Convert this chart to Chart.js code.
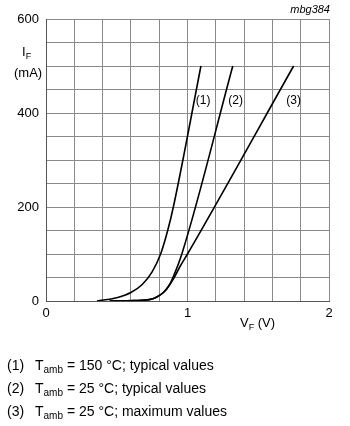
<!DOCTYPE html>
<html>
<head>
<meta charset="utf-8">
<script src="https://cdn.jsdelivr.net/npm/chart.js@4/dist/chart.umd.min.js"></script>
<style>
  body { margin: 0; background: #fff; font-family: 'Liberation Sans', Arial, sans-serif; color: #000; }
  #wrap { position: relative; width: 350px; height: 426px; }
  canvas { position: absolute; left: 0; top: 0; }
  .lbl { position: absolute; font-size: 13px; line-height: 1; white-space: nowrap; }
  .lbl sub { font-size: 9px; vertical-align: -3px; line-height: 0; }
  .note { font-size: 14px; }
  .note sub { font-size: 10px; }
</style>
</head>
<body>
<div id="wrap">
  <canvas id="chart" width="350" height="426"></canvas>
  <div class="lbl" style="right:20px; top:4px; font-size:11px; font-style:italic;">mbg384</div>
  <div class="lbl" style="left:22px; top:45px;">I<sub>F</sub></div>
  <div class="lbl" style="left:14px; top:66px;">(mA)</div>
  <div class="lbl" style="left:240px; top:316px;">V<sub>F</sub> (V)</div>
  <div class="lbl note" style="left:7px; top:358px;">(1)</div>
  <div class="lbl note" style="left:35px; top:358px;">T<sub>amb</sub> = 150 °C; typical values</div>
  <div class="lbl note" style="left:7px; top:381px;">(2)</div>
  <div class="lbl note" style="left:35px; top:381px;">T<sub>amb</sub> = 25 °C; typical values</div>
  <div class="lbl note" style="left:7px; top:404px;">(3)</div>
  <div class="lbl note" style="left:35px; top:404px;">T<sub>amb</sub> = 25 °C; maximum values</div>
</div>
<script>
// ===== DATA =====
// forward voltage (V) vs forward current (mA)
const curve1V = [0.36, 0.5, 0.6, 0.68, 0.75, 0.81, 0.86, 0.9, 1.095];
const curve1I = [0, 7, 18, 35, 62, 100, 150, 200, 500];

const curve2V = [0.45, 0.62, 0.73, 0.78, 0.83, 0.87, 0.9, 0.96, 1.32];
const curve2I = [0, 1, 3, 8, 18, 33, 52, 100, 500];

const curve3V = [0.45, 0.62, 0.73, 0.78, 0.83, 0.87, 0.91, 0.95, 1.0, 1.75];
const curve3I = [0, 1, 3, 8, 18, 33, 52, 75, 100, 500];

const curveNames = ['(1)', '(2)', '(3)'];
const curveLabelV = [1.11, 1.34, 1.75];
const curveLabelI = [426, 426, 426];

const xTickLabels = [0, 1, 2];
const yTickLabels = [0, 200, 400, 600];

const toPoints = (xs, ys) => xs.map((x, i) => ({ x, y: ys[i] }));

const curveLabels = {
  id: 'curveLabels',
  afterDatasetsDraw(chart) {
    const { ctx, scales: { x, y } } = chart;
    ctx.save();
    ctx.font = "12px 'Liberation Sans', Arial, sans-serif";
    ctx.fillStyle = '#000';
    ctx.textAlign = 'center';
    ctx.textBaseline = 'middle';
    curveNames.forEach((name, i) => {
      ctx.fillText(name, x.getPixelForValue(curveLabelV[i]), y.getPixelForValue(curveLabelI[i]));
    });
    ctx.restore();
  }
};

const lineStyle = {
  borderColor: '#000',
  borderWidth: 1.6,
  pointRadius: 0,
  showLine: true,
  fill: false,
  cubicInterpolationMode: 'monotone',
};

new Chart(document.getElementById('chart').getContext('2d'), {
  type: 'scatter',
  data: {
    datasets: [
      { ...lineStyle, data: toPoints(curve1V, curve1I) },
      { ...lineStyle, data: toPoints(curve2V, curve2I) },
      { ...lineStyle, data: toPoints(curve3V, curve3I) },
    ]
  },
  options: {
    responsive: false,
    animation: false,
    layout: { padding: { top: 19, right: 21, left: 0, bottom: 0 } },
    plugins: { legend: { display: false }, tooltip: { enabled: false } },
    scales: {
      x: {
        type: 'linear', min: 0, max: 2,
        afterFit: s => { s.height = 125; },
        grid: { color: '#8a8a8a', lineWidth: 1, drawTicks: false },
        border: { color: '#555', width: 1 },
        ticks: {
          stepSize: 0.2, padding: 5, color: '#000',
          font: { family: "'Liberation Sans', Arial, sans-serif", size: 13 },
          callback: v => xTickLabels.find(t => Math.abs(t - v) < 1e-6) !== undefined ? String(Math.round(v)) : ''
        }
      },
      y: {
        type: 'linear', min: 0, max: 600,
        afterFit: s => { s.width = 46; },
        grid: { color: '#8a8a8a', lineWidth: 1, drawTicks: false },
        border: { color: '#555', width: 1 },
        ticks: {
          stepSize: 50, padding: 7, color: '#000',
          font: { family: "'Liberation Sans', Arial, sans-serif", size: 13 },
          callback: v => yTickLabels.includes(v) ? String(v) : ''
        }
      }
    }
  },
  plugins: [curveLabels]
});
</script>
</body>
</html>
